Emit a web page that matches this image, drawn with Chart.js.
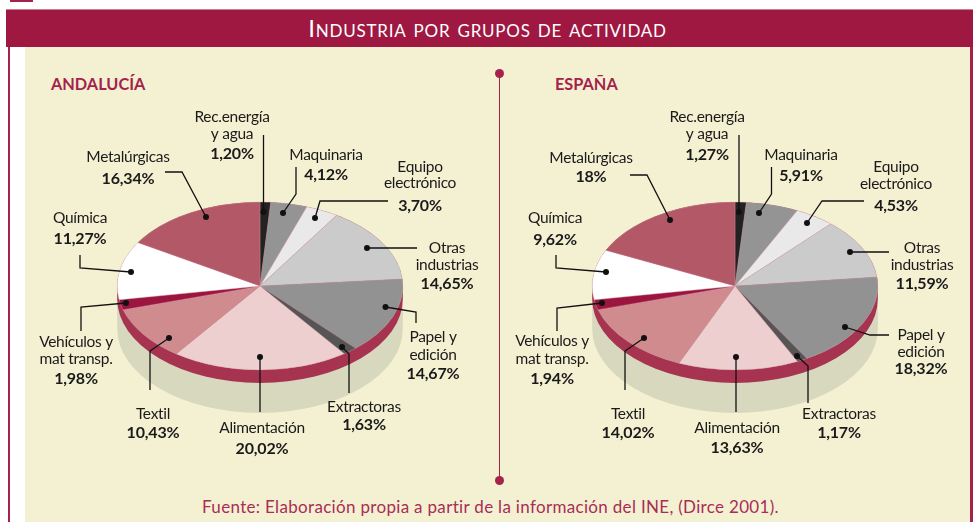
<!DOCTYPE html>
<html>
<head>
<meta charset="utf-8">
<title>Industria por grupos de actividad</title>
<script src="https://cdn.jsdelivr.net/npm/chart.js@4"></script>
<style>
  html, body { margin: 0; padding: 0; background: #fff; }
  body { width: 974px; height: 522px; position: relative; overflow: hidden; font-family: Lato, sans-serif; }
  .abs { position: absolute; }
  canvas { position: absolute; left: 0; top: 0; }
  #band { left: 6px; top: 9px; width: 967px; height: 38px; background: #9e1842; border-top: 1px solid #cb8093; box-sizing: border-box;
          color: #fff; text-align: center; font-size: 24px; line-height: 35px; font-variant: small-caps; letter-spacing: 0.8px; padding-right: 4px; }
  #foot { left: 18px; width: 945px; top: 496px; text-align: center; color: #a92d55; font-size: 17px; letter-spacing: 0.32px; }
  .region { top: 74px; color: #a5224c; font-weight: 700; font-size: 16.3px; }
</style>
</head>
<body>
<div class="abs" style="left:10px;top:0;width:23px;height:2px;background:#a5224c"></div>
<div class="abs" style="left:8px;top:47px;width:2px;height:475px;background:#a5224c"></div>
<div class="abs" style="left:25px;top:47px;width:945px;height:475px;background:#f4f1d3"></div>
<div class="abs" style="left:970px;top:47px;width:3px;height:475px;background:#a5224c"></div>
<div class="abs" id="band">Industria por grupos de actividad</div>
<div class="abs" style="left:498.5px;top:73px;width:1.5px;height:407px;background:#a5224c"></div>
<div class="abs" style="left:495px;top:69px;width:9px;height:9px;border-radius:50%;background:#a5224c"></div>
<div class="abs" style="left:495px;top:476px;width:9px;height:9px;border-radius:50%;background:#a5224c"></div>
<div class="abs region" style="left:51px">ANDALUCÍA</div>
<div class="abs region" style="left:555px">ESPAÑA</div>
<div class="abs" id="foot">Fuente: Elaboración propia a partir de la información del INE, (Dirce 2001).</div>
<canvas id="pieAndalucia" width="974" height="522"></canvas>
<canvas id="pieEspana" width="974" height="522"></canvas>

<script>
const categories = ['Rec.energía y agua', 'Maquinaria', 'Equipo electrónico', 'Otras industrias', 'Papel y edición',
  'Extractoras', 'Alimentación', 'Textil', 'Vehículos y mat transp.', 'Química', 'Metalúrgicas'];
const andalucia = [1.20, 4.12, 3.70, 14.65, 14.67, 1.63, 20.02, 10.43, 1.98, 11.27, 16.34];
const espana = [1.27, 5.91, 4.53, 11.59, 18.32, 1.17, 13.63, 14.02, 1.94, 9.62, 18];
const andaluciaTicks = ['1,20%', '4,12%', '3,70%', '14,65%', '14,67%', '1,63%', '20,02%', '10,43%', '1,98%', '11,27%', '16,34%'];
const espanaTicks = ['1,27%', '5,91%', '4,53%', '11,59%', '18,32%', '1,17%', '13,63%', '14,02%', '1,94%', '9,62%', '18%'];
const sliceColors = ['#222222', '#949494', '#e9e9e9', '#cbcbcb', '#929292', '#555555', '#eecfcf', '#d08b8f', '#9c1440', '#ffffff', '#b35866'];

// how the category names wrap in the labels
const nameLines = [['Rec.energía', 'y agua'], ['Maquinaria'], ['Equipo', 'electrónico'], ['Otras', 'industrias'], ['Papel y', 'edición'],
  ['Extractoras'], ['Alimentación'], ['Textil'], ['Vehículos y', 'mat transp.'], ['Química'], ['Metalúrgicas']];

// page positions: label centre x and the y of each line, then the leader from outer end to dot
const andaluciaLayout = [
  { x: 232, y: [117, 134, 154], leader: [[263.5, 135], [263.5, 212]] },
  { x: 326, y: [155, 175], leader: [[296, 167], [296, 194], [283, 213]] },
  { x: 420, y: [167, 183, 206], leader: [[388, 201], [320, 201], [315, 218]] },
  { x: 447, y: [248, 265, 284], leader: [[417, 248], [367, 248]] },
  { x: 433, y: [337, 355, 374], leader: [[416, 323], [416, 312], [385.5, 307]] },
  { x: 364, y: [407, 425], leader: [[349, 393], [349, 354], [342, 347]] },
  { x: 262, y: [428, 449], leader: [[260, 412], [260, 357]] },
  { x: 153, y: [414, 433], leader: [[150, 390], [150, 351], [169, 338]] },
  { x: 76, y: [342, 359, 379], leader: [[81, 331], [81, 307], [126, 303]] },
  { x: 80, y: [218, 239], leader: [[80, 255], [80, 268], [131, 272]] },
  { x: 128, y: [157, 179], leader: [[165, 172], [182, 172], [206, 217]] }
];
const espanaLayout = [
  { x: 707, y: [117, 134, 155], leader: [[739, 135], [739, 212]] },
  { x: 801, y: [155, 176], leader: [[771.5, 167], [771.5, 194], [759, 213]] },
  { x: 896, y: [167, 184, 206], leader: [[864, 201], [822, 201], [807, 223]] },
  { x: 922, y: [248, 265, 284], leader: [[889, 252], [850, 252]] },
  { x: 921, y: [335, 352, 369], leader: [[889, 335], [870, 335], [845, 327]] },
  { x: 839, y: [414, 433], leader: [[808, 403], [808, 366], [797, 356]] },
  { x: 737, y: [428, 448], leader: [[736, 412], [736, 357]] },
  { x: 628, y: [414, 433], leader: [[625, 390], [625, 351], [644, 338]] },
  { x: 552, y: [341, 359, 379], leader: [[557, 331], [557, 308], [602, 303]] },
  { x: 555, y: [218, 240], leader: [[556, 255], [556, 268], [606, 272]] },
  { x: 591, y: [158, 177], leader: [[630, 175], [647, 175], [670, 220]] }
];

const squash = 84 / 143;
const rimDepth = 13;
const shadowDepth = 43;

// tilts the pie and puts the rim and shadow under it
const tiltPlugin = {
  id: 'tilt',
  beforeDatasetsDraw(chart) {
    const arc = chart.getDatasetMeta(0).data[0];
    const { x, y, outerRadius: r } = arc.getProps(['x', 'y', 'outerRadius'], true);
    const ctx = chart.ctx;
    const ry = r * squash;
    const body = (depth, color) => {
      ctx.fillStyle = color;
      ctx.beginPath();
      ctx.ellipse(x, y, r, ry, 0, Math.PI, 0, true);
      ctx.ellipse(x, y + depth, r, ry, 0, 0, Math.PI);
      ctx.closePath();
      ctx.fill();
      ctx.beginPath();
      ctx.ellipse(x, y, r, ry, 0, 0, Math.PI * 2);
      ctx.fill();
    };
    body(shadowDepth, '#d8d8bf');
    body(rimDepth, '#a63350');
    ctx.save();
    ctx.translate(x, y);
    ctx.scale(1, squash);
    ctx.translate(-x, -y);
  },
  afterDatasetsDraw(chart) {
    chart.ctx.restore();
  }
};

const labelPlugin = {
  id: 'sliceLabels',
  afterDraw(chart, args, opts) {
    const ctx = chart.ctx;
    ctx.save();
    ctx.strokeStyle = '#111';
    ctx.lineWidth = 1.3;
    ctx.fillStyle = '#111';
    opts.layout.forEach((item, i) => {
      ctx.beginPath();
      item.leader.forEach((p, k) => (k ? ctx.lineTo(p[0], p[1]) : ctx.moveTo(p[0], p[1])));
      ctx.stroke();
      const dot = item.leader[item.leader.length - 1];
      ctx.beginPath();
      ctx.arc(dot[0], dot[1], 3, 0, Math.PI * 2);
      ctx.fill();

      ctx.textAlign = 'center';
      ctx.textBaseline = 'middle';
      ctx.fillStyle = '#1a1a1a';
      ctx.letterSpacing = '-0.3px';
      ctx.font = '15.5px Lato';
      nameLines[i].forEach((line, k) => ctx.fillText(line, item.x, item.y[k]));
      ctx.letterSpacing = '-0.2px';
      ctx.font = 'bold 16px Lato';
      ctx.fillText(opts.ticks[i], item.x, item.y[item.y.length - 1]);
      ctx.fillStyle = '#111';
    });
    ctx.restore();
  }
};

function drawPie(id, values, ticks, layout, padding) {
  return new Chart(document.getElementById(id), {
    type: 'pie',
    data: {
      labels: categories,
      datasets: [{
        data: values,
        backgroundColor: sliceColors,
        borderColor: '#d9a3ad',
        borderWidth: 0.4,
        clip: false
      }]
    },
    options: {
      responsive: false,
      animation: false,
      layout: { padding },
      plugins: {
        legend: { display: false },
        tooltip: { enabled: false },
        sliceLabels: { layout, ticks }
      }
    },
    plugins: [tiltPlugin, labelPlugin]
  });
}

drawPie('pieAndalucia', andalucia, andaluciaTicks, andaluciaLayout, { left: 117, right: 571, top: 143, bottom: 93 });
drawPie('pieEspana', espana, espanaTicks, espanaLayout, { left: 592, right: 96, top: 143, bottom: 93 });
</script>
</body>
</html>
